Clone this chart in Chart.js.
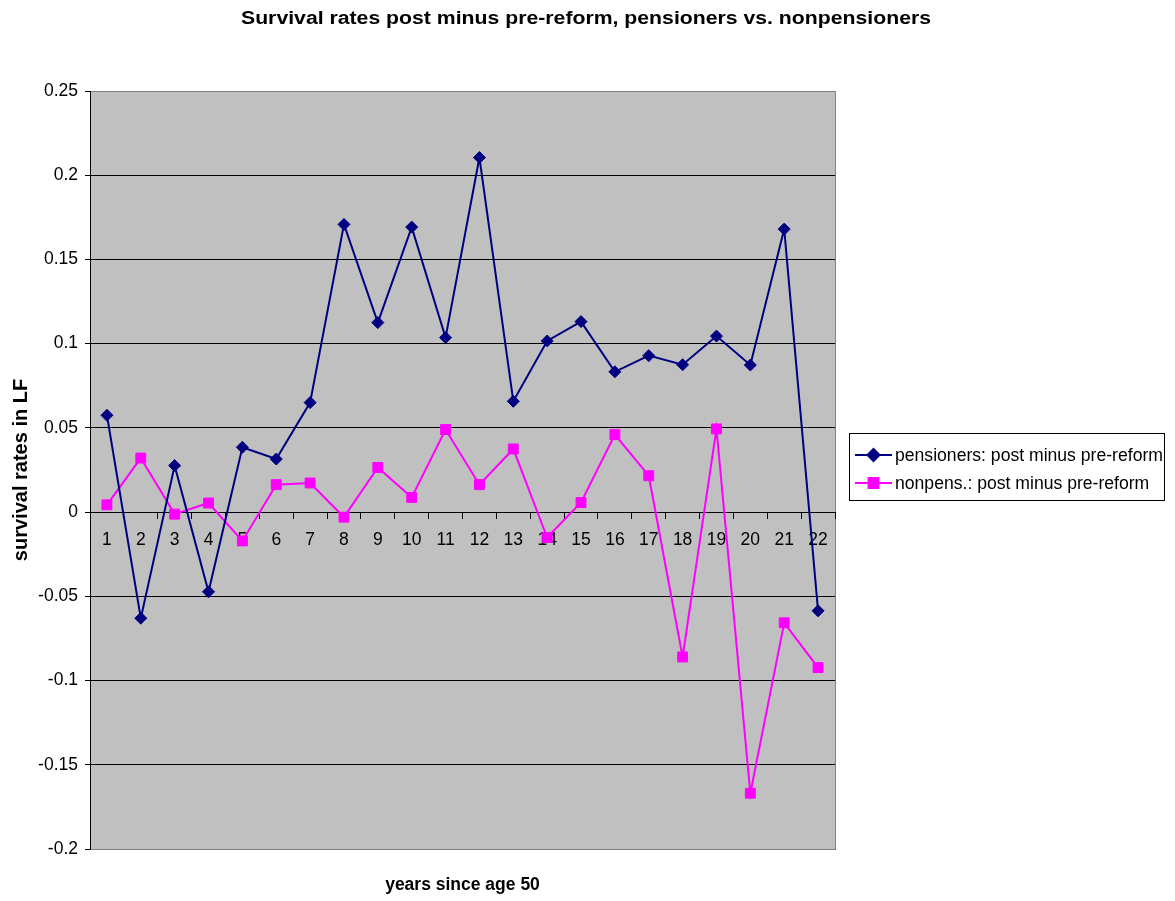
<!DOCTYPE html>
<html>
<head>
<meta charset="utf-8">
<script src="https://cdn.jsdelivr.net/npm/chart.js@4/dist/chart.umd.min.js"></script>
<style>
  html, body { margin: 0; padding: 0; background: #fff; }
  #wrap { width: 1175px; height: 901px; }
</style>
</head>
<body>
<div id="wrap"><canvas id="chart" width="1175" height="901"></canvas></div>
<script>
const years = ['1', '2', '3', '4', '5', '6', '7', '8', '9', '10', '11',
  '12', '13', '14', '15', '16', '17', '18', '19', '20', '21', '22']

const pensioners = [0.0575, -0.063, 0.0276, -0.0473, 0.0385, 0.0315, 0.065,
  0.1708, 0.1125, 0.1692, 0.1036, 0.2105, 0.0658, 0.1016, 0.1131, 0.0833,
  0.0929, 0.0875, 0.1045, 0.0873, 0.168, -0.0586]

const nonpensioners = [0.0043, 0.0321, -0.0012, 0.0054, -0.0171, 0.0163,
  0.0173, -0.003, 0.0265, 0.0087, 0.049, 0.0163, 0.0375, -0.0151, 0.0057,
  0.046, 0.0216, -0.086, 0.0494, -0.1669, -0.0657, -0.0923]

const chartTitle = 'Survival rates post minus pre-reform, pensioners vs. nonpensioners'
const seriesNames = ['pensioners: post minus pre-reform', 'nonpens.: post minus pre-reform']
const seriesColors = ['#000080', '#ff00ff']
const seriesMarkers = ['rectRot', 'rect']

const FONT = "'Liberation Sans', Arial, sans-serif"

// grey plot area with a thin grey frame
const plotBackground = {
  id: 'plotBackground',
  beforeDraw(chart) {
    const { ctx, chartArea: a } = chart
    ctx.save()
    ctx.fillStyle = '#c0c0c0'
    ctx.fillRect(a.left, a.top, a.right - a.left, a.bottom - a.top)
    ctx.strokeStyle = '#808080'
    ctx.lineWidth = 1
    ctx.strokeRect(a.left + 0.5, a.top + 0.5, a.right - a.left, a.bottom - a.top)
    ctx.restore()
  },
}

// page title, boxed legend and x axis title (excel look)
const extras = {
  id: 'extras',
  afterDraw(chart) {
    const { ctx, chartArea: a } = chart
    ctx.save()
    ctx.fillStyle = '#000'
    ctx.textBaseline = 'middle'

    // title is drawn a bit wider than the font, like the original
    ctx.font = 'bold 18px ' + FONT
    ctx.textAlign = 'center'
    const tw = ctx.measureText(chartTitle).width
    ctx.save()
    ctx.translate(586, 19)
    ctx.scale(690 / tw, 1)
    ctx.fillText(chartTitle, 0, 0)
    ctx.restore()

    ctx.font = 'bold 17.5px ' + FONT
    ctx.fillText('years since age 50', (a.left + a.right) / 2, 885)

    const bx = a.right + 14, by = 433, bw = 315, bh = 67
    ctx.strokeStyle = '#000'
    ctx.lineWidth = 1
    ctx.strokeRect(bx + 0.5, by + 0.5, bw, bh)

    ctx.font = '17.6px ' + FONT
    ctx.textAlign = 'left'
    seriesNames.forEach((name, i) => {
      const y = by + 22 + i * 28
      ctx.strokeStyle = seriesColors[i]
      ctx.lineWidth = 2
      ctx.beginPath()
      ctx.moveTo(bx + 6, y)
      ctx.lineTo(bx + 43, y)
      ctx.stroke()
      ctx.fillStyle = seriesColors[i]
      Chart.helpers.drawPoint(ctx, {
        pointStyle: seriesMarkers[i],
        radius: i === 0 ? 6 : 7,
        borderWidth: 1,
      }, bx + 24.5, y)
      ctx.fillStyle = '#000'
      ctx.fillText(name, bx + 46, y + 1)
    })
    ctx.restore()
  },
}

const ctx = document.getElementById('chart').getContext('2d')

new Chart(ctx, {
  type: 'line',
  data: {
    labels: years,
    datasets: [
      {
        label: seriesNames[0],
        data: pensioners,
        borderColor: seriesColors[0],
        backgroundColor: seriesColors[0],
        pointStyle: seriesMarkers[0],
        pointRadius: 6,
        pointBorderWidth: 1,
        borderWidth: 2,
        tension: 0,
      },
      {
        label: seriesNames[1],
        data: nonpensioners,
        borderColor: seriesColors[1],
        backgroundColor: seriesColors[1],
        pointStyle: seriesMarkers[1],
        pointRadius: 7,
        pointBorderWidth: 1,
        borderWidth: 2,
        tension: 0,
      },
    ],
  },
  options: {
    responsive: false,
    animation: false,
    layout: { padding: { left: 0, right: 340, top: 91, bottom: 52 } },
    plugins: {
      legend: { display: false },
      tooltip: { enabled: false },
      title: { display: false },
    },
    scales: {
      x: {
        position: { y: 0 },
        offset: true,
        grid: {
          offset: true,
          drawOnChartArea: false,
          tickLength: 6,
          color: '#000',
        },
        border: { color: '#000', width: 1 },
        ticks: {
          color: '#000',
          font: { family: FONT, size: 17.5 },
          padding: 12,
          maxRotation: 0,
          autoSkip: false,
        },
      },
      y: {
        min: -0.2,
        max: 0.25,
        afterFit(scale) {
          scale.width = 90
        },
        grid: {
          color: c => (c.tick && (c.tick.value > 0.249 || c.tick.value < -0.199) ? '#808080' : '#000'),
          tickColor: '#000',
          tickLength: 5,
          lineWidth: 1,
        },
        border: { color: '#000', width: 1 },
        ticks: {
          stepSize: 0.05,
          color: '#000',
          font: { family: FONT, size: 17.5 },
          padding: 7,
          callback: v => String(parseFloat(v.toFixed(2))),
        },
        title: {
          display: true,
          text: 'survival rates in LF',
          color: '#000',
          font: { family: FONT, size: 20, weight: 'bold' },
          padding: { top: 9, bottom: 0 },
        },
      },
    },
  },
  plugins: [plotBackground, extras],
})
</script>
</body>
</html>
